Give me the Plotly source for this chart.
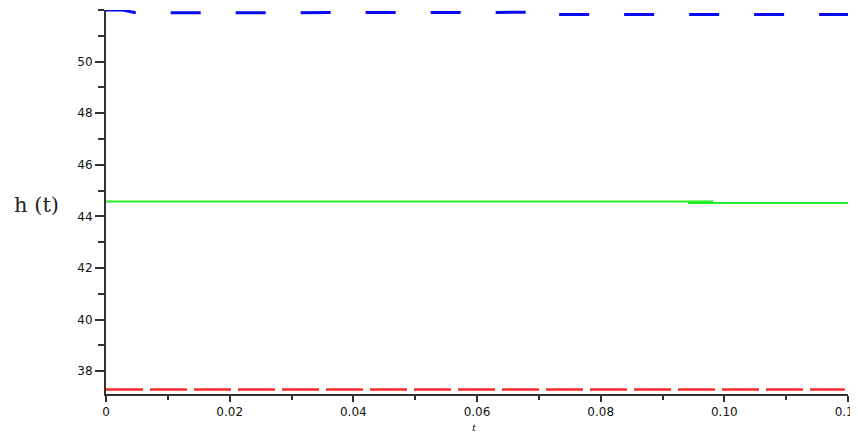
import plotly.graph_objects as go

# Data
t_blue = [0.0, 0.0027, 0.0048, 0.0715, 0.0716, 0.12]
h_blue = [52.0, 52.0, 51.89, 51.91, 51.83, 51.83]

t_green = [0.0, 0.0982, None, 0.0941, 0.12]
h_green = [44.58, 44.58, None, 44.52, 44.52]

t_red = [0.0, 0.1195]
h_red = [37.29, 37.29]

x_ticks = [0, 0.02, 0.04, 0.06, 0.08, 0.10, 0.12]
x_tick_labels = ["0", "0.02", "0.04", "0.06", "0.08", "0.10", "0.12"]
y_ticks = [38, 40, 42, 44, 46, 48, 50]
y_tick_labels = ["38", "40", "42", "44", "46", "48", "50"]

fig = go.Figure()
fig.add_trace(go.Scatter(x=t_red, y=h_red, mode="lines",
                         line=dict(color="#ff2a2a", width=2.5, dash="37px,7px"),
                         showlegend=False, hoverinfo="skip", cliponaxis=False))
fig.add_trace(go.Scatter(x=t_green, y=h_green, mode="lines",
                         line=dict(color="#22ee22", width=2),
                         showlegend=False, hoverinfo="skip", cliponaxis=False))
fig.add_trace(go.Scatter(x=t_blue, y=h_blue, mode="lines",
                         line=dict(color="#0a0af0", width=3, dash="30px,35px"),
                         showlegend=False, hoverinfo="skip", cliponaxis=False))

axis_font = dict(family="DejaVu Sans", size=12, color="#111")

# the page body adds an 8px offset, so the figure is sized 850x430
fig.update_layout(
    template="none",
    width=850, height=430, autosize=False,
    margin=dict(l=98, r=10, t=2, b=44, pad=0),
    paper_bgcolor="white", plot_bgcolor="white",
    xaxis=dict(range=[0, 0.12], tickvals=x_ticks, ticktext=x_tick_labels,
               automargin=False, ticklabeloverflow="allow",
               showgrid=False, zeroline=False, showline=True, linecolor="#333",
               linewidth=2, ticks="outside", ticklen=6, tickwidth=1.5, tickcolor="#333",
               tickfont=axis_font,
               minor=dict(dtick=0.01, ticks="outside", ticklen=4, tickwidth=1.5,
                          tickcolor="#333", showgrid=False)),
    yaxis=dict(range=[37.12, 52.0], tickvals=y_ticks, ticktext=y_tick_labels,
               automargin=False,
               showgrid=False, zeroline=False, showline=True, linecolor="#333",
               linewidth=2, ticks="outside", ticklen=9, tickwidth=1.5, tickcolor="#333",
               tickfont=axis_font,
               minor=dict(dtick=1, ticks="outside", ticklen=6, tickwidth=1.5,
                          tickcolor="#333", showgrid=False)),
    annotations=[
        dict(text="h (t)", xref="paper", yref="paper", x=-0.0943, y=0.492,
             showarrow=False, font=dict(family="DejaVu Serif", size=21, color="#222"),
             xanchor="center", yanchor="middle"),
        dict(text="<i>t</i>", xref="paper", yref="paper", x=0.497, y=0,
             yshift=-33, showarrow=False,
             font=dict(family="DejaVu Serif", size=10, color="#222"),
             xanchor="center", yanchor="middle"),
    ],
)

fig.write_html("out.html")
